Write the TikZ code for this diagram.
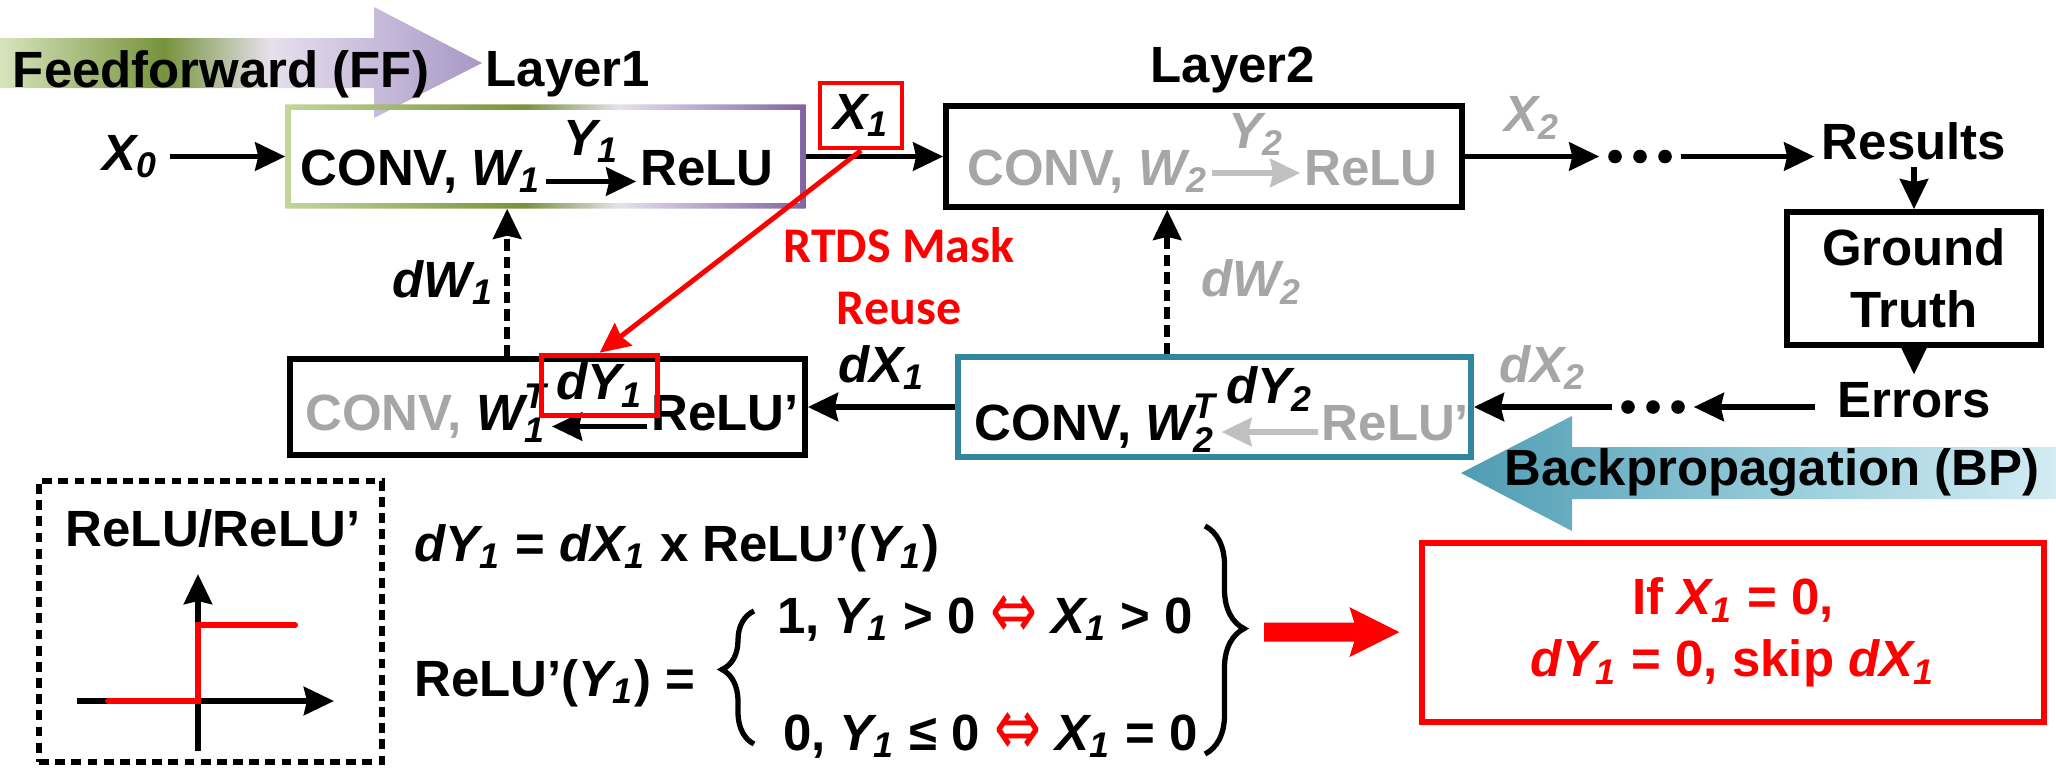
\documentclass[tikz,border=0pt]{standalone}
\usepackage{amsmath}
\usepackage{graphicx}
\usepackage{fontspec}
\setmainfont{Liberation Sans}
\newfontfamily\calfont{Carlito}
\newfontfamily\symfont{DejaVu Sans}
\usepackage{xcolor}
\usepackage{tikz}
\usetikzlibrary{positioning}
\usetikzlibrary{arrows.meta}
\usetikzlibrary{decorations.pathreplacing}

\definecolor{txtgray}{HTML}{A6A6A6}
\definecolor{arrgray}{HTML}{C0C0C0}
\definecolor{bpteal}{HTML}{31859C}
\definecolor{ffA}{HTML}{D7E4BD}
\definecolor{ffB}{HTML}{77933C}
\definecolor{ffC}{HTML}{E6E0EC}
\definecolor{ffD}{HTML}{C5B8D9}
\definecolor{ffE}{HTML}{A798C4}
\definecolor{lA}{HTML}{C3D69B}
\definecolor{lB}{HTML}{77933C}
\definecolor{lC}{HTML}{E6E0EC}
\definecolor{lD}{HTML}{8064A2}
\definecolor{bpA}{HTML}{4F9CB2}
\definecolor{bpB}{HTML}{9FD1DF}
\definecolor{bpC}{HTML}{D3EBF2}

\pgfdeclarehorizontalshading{ffshade}{100bp}{color(0bp)=(ffA); color(25bp)=(ffA); color(42bp)=(ffB); color(53bp)=(ffC); color(65bp)=(ffD); color(75bp)=(ffE); color(100bp)=(ffE)}
\pgfdeclarehorizontalshading{lshade}{100bp}{color(0bp)=(lA); color(25bp)=(lA); color(48bp)=(lB); color(57bp)=(lC); color(75bp)=(lD); color(100bp)=(lD)}
\pgfdeclarehorizontalshading{bpshade}{100bp}{color(0bp)=(bpA); color(25bp)=(bpA); color(55bp)=(bpB); color(75bp)=(bpC); color(100bp)=(bpC)}

\newcommand{\vsym}[2]{$\textit{#1}_{\textit{#2}}$}
\newcommand{\vsymT}[2]{$\textit{#1}_{\textit{#2}}^{\textit{T}}$}
\newcommand{\eqv}{\raisebox{-0.1em}{\scalebox{1.1}[1.6]{\symfont\mdseries\color{red}⇔}}}

\begin{document}
\begin{tikzpicture}[
    every node/.style={font=\bfseries\fontsize{14.5}{17.5}\selectfont},
    box/.style={draw, line width=1.6pt, inner sep=0pt},
    redbox/.style={draw=red, line width=1.4pt, inner sep=0pt},
    lbl/.style={inner sep=1pt},
    dotrow/.style={minimum width=0.8cm, minimum height=0.2cm, inner sep=0pt},
    arr/.style={line width=1.7pt, -{Stealth[length=0.30cm, width=0.28cm, inset=0.03cm]}},
    gradline/.style={dash pattern=on 3.3pt off 1.7pt},
    bigarr/.style={red, line width=0.19cm, -{Stealth[length=0.5cm, width=0.5cm, inset=0.08cm, line width=0pt]}}
]

% Bounding box
\useasboundingbox (0,0) rectangle (20.56,-7.68);

% Feedforward and backpropagation arrows
\shade[shading=ffshade] (0,-0.38) -- (3.74,-0.38) -- (3.74,-0.07) -- (4.82,-0.63) -- (3.74,-1.18) -- (3.74,-0.88) -- (0,-0.88) -- cycle;
\node[anchor=base] (fftext) at (2.21,-0.87) {Feedforward (FF)};
\shade[shading=bpshade] (20.56,-4.47) -- (15.72,-4.47) -- (15.72,-4.16) -- (14.61,-4.73) -- (15.72,-5.31) -- (15.72,-4.99) -- (20.56,-4.99) -- cycle;
\node[anchor=base] (bptext) at (17.72,-4.85) {Backpropagation (BP)};

% Layer labels
\node[anchor=base] (lay1) at (5.68,-0.86) {Layer1};
\node[anchor=base] (lay2) at (12.33,-0.82) {Layer2};

% Forward boxes
\node[minimum width=5.19cm, minimum height=1.03cm, inner sep=0pt] (l1) at (5.455,-1.565) {};
\shade[shading=lshade, even odd rule] (l1.south west) rectangle (l1.north east)
    ([shift={(0.055,0.055)}]l1.south west) rectangle ([shift={(-0.055,-0.055)}]l1.north east);
\node[box, minimum width=5.16cm, minimum height=1.01cm] (l2) at (12.04,-1.565) {};

% Layer1 content
\node[lbl, anchor=base] (conv1) at (4.21,-1.85) {CONV, \vsym{W}{1}};
\node[lbl, anchor=base] (relu1) at (7.07,-1.85) {ReLU};
\draw[arr] ([yshift=1pt]conv1.base east) -- ([yshift=1pt]relu1.base west)
    node[lbl, midway, above=3.5pt] (y1) {\vsym{Y}{1}};

% Layer2 content
\node[lbl, anchor=base, text=txtgray] (conv2) at (10.875,-1.85) {CONV, \vsym{W}{2}};
\node[lbl, anchor=base, text=txtgray] (relu2) at (13.71,-1.85) {ReLU};
\draw[arr, arrgray] ([yshift=0.12cm]conv2.base east) -- ([yshift=0.12cm]relu2.base west)
    node[lbl, midway, above=3pt, text=txtgray] (y2) {\vsym{Y}{2}};

% Forward path
\node (x0) at (1.30,-1.565) {\vsym{X}{0}};
\node[redbox, minimum width=0.82cm, minimum height=0.65cm] (x1box) at (8.61,-1.155) {\vsym{X}{1}};
\node[dotrow] (dots1) at (16.40,-1.565) {};
\node[inner sep=2pt] (res) at (19.14,-1.41) {Results};
\node[box, minimum width=2.54cm, minimum height=1.33cm, align=center] (gt) at (19.14,-2.785) {Ground\\Truth};
\node[inner sep=2pt] (err) at (19.14,-4.0) {Errors};
\node[dotrow] (dots2) at (16.53,-4.07) {};

\draw[arr] (x0) -- (l1);
\draw[arr] (l1) -- (l2);
\draw[arr] (l2) -- (dots1) node[lbl, midway, above=3pt, text=txtgray] (x2) {\vsym{X}{2}};
\draw[arr] (dots1.east) -- (dots1.east -| res.west);
\draw[arr] (res) -- (gt);
\draw[arr] (gt) -- (err);
\draw[arr, shorten <=0.15cm] (err.west |- dots2) -- (dots2.east);

% Backward boxes
\node[box, minimum width=5.15cm, minimum height=0.96cm] (b1) at (5.475,-4.07) {};
\node[box, draw=bpteal, minimum width=5.13cm, minimum height=1.0cm] (b2) at (12.145,-4.07) {};

% Backward Layer1 content
\node[lbl, anchor=base] (conv3) at (4.265,-4.30) {\textcolor{txtgray}{CONV,} \vsymT{W}{1}};
\node[lbl, anchor=base] (relu3) at (7.25,-4.30) {ReLU'};
\draw[arr] ([yshift=1pt]relu3.base west) -- ([yshift=1pt]conv3.base east)
    node[redbox, midway, above=2.5pt, minimum width=1.16cm, minimum height=0.6cm] (dy1) {\vsym{dY}{1}};

% Backward Layer2 content
\node[lbl, anchor=base] (conv4) at (10.96,-4.40) {CONV, \vsymT{W}{2}};
\node[lbl, anchor=base, text=txtgray] (relu4) at (13.955,-4.40) {ReLU'};
\draw[arr, arrgray] ([yshift=0.08cm]relu4.base west) -- ([yshift=0.08cm]conv4.base east)
    node[lbl, midway, above=4pt, text=black] (dy2) {\vsym{dY}{2}};

% Backward path
\draw[arr] (dots2.west) -- (b2) node[lbl, midway, above=3pt, text=txtgray] (dx2) {\vsym{dX}{2}};
\draw[arr] (b2) -- (b1) node[lbl, midway, above=3pt] (dx1) {\vsym{dX}{1}};

% Weight gradients
\draw[arr, gradline] ([xshift=2.2cm]b1.north west) -- ([xshift=2.2cm]b1.north west |- l1.south)
    node[lbl, midway, left=2pt] (dw1) {\vsym{dW}{1}};
\draw[arr, gradline] ([xshift=2.12cm]b2.north west) -- ([xshift=2.12cm]b2.north west |- l2.south)
    node[lbl, midway, right=0.28cm, text=txtgray] (dw2) {\vsym{dW}{2}};

% Dots
\foreach \d in {dots1,dots2}
    \foreach \dx in {-0.25,0,0.25}
        \fill ([xshift=\dx cm]\d.center) circle (0.068);

% Mask reuse
\draw[arr, red, line width=1.4pt] (x1box.south) -- (dy1.north);
\node[text=red, align=center, font=\calfont\bfseries\fontsize{14.2}{17.6}\selectfont] (rtds) at (8.99,-2.76) {RTDS Mask\\Reuse};

% ReLU plot
\node[draw, line width=1.5pt, dash pattern=on 2.8pt off 1.8pt, minimum width=3.43cm, minimum height=2.81cm] (relbox) at (2.105,-6.215) {};
\node[anchor=base] (reltitle) at (2.13,-5.46) {ReLU/ReLU'};
\draw[arr] (0.77,-7.01) -- (3.34,-7.01);
\draw[arr] (1.98,-7.51) -- (1.98,-5.74);
\draw[red, line width=1.7pt, line cap=round] (1.08,-7.01) -- (1.98,-7.01) -- (1.98,-6.25) -- (2.95,-6.25);

% Equations
\node[anchor=base west] (eq1) at (4.02,-5.61) {\vsym{dY}{1} = \vsym{dX}{1} x ReLU'(\vsym{Y}{1})};
\node[anchor=base west] (eq2) at (4.02,-6.96) {ReLU'(\vsym{Y}{1}) =};
\node[lbl, anchor=base west] (row1) at (7.73,-6.33) {1, \vsym{Y}{1} > 0 \eqv{} \vsym{X}{1} > 0};
\node[lbl, anchor=base west] (row2) at (7.79,-7.50) {0, \vsym{Y}{1} ≤ 0 \eqv{} \vsym{X}{1} = 0};
\draw[line width=1.5pt, decorate, decoration={brace, amplitude=0.32cm, aspect=0.56}] (7.54,-7.44) -- (7.54,-6.11);
\draw[line width=1.5pt, decorate, decoration={brace, amplitude=0.39cm, aspect=0.45}] (12.05,-5.26) -- (12.05,-7.54);
\coordinate (bracetip) at (12.44,-6.32);

% Conclusion
\node[draw=red, line width=1.5pt, minimum width=6.22cm, minimum height=1.79cm, text=red, align=center] (skip) at (17.33,-6.325)
    {If \vsym{X}{1} = 0,\\ \vsym{dY}{1} = 0, skip \vsym{dX}{1}};
\draw[bigarr, shorten <=0.2cm, shorten >=0.2cm] (bracetip) -- (skip);

\end{tikzpicture}
\end{document}
